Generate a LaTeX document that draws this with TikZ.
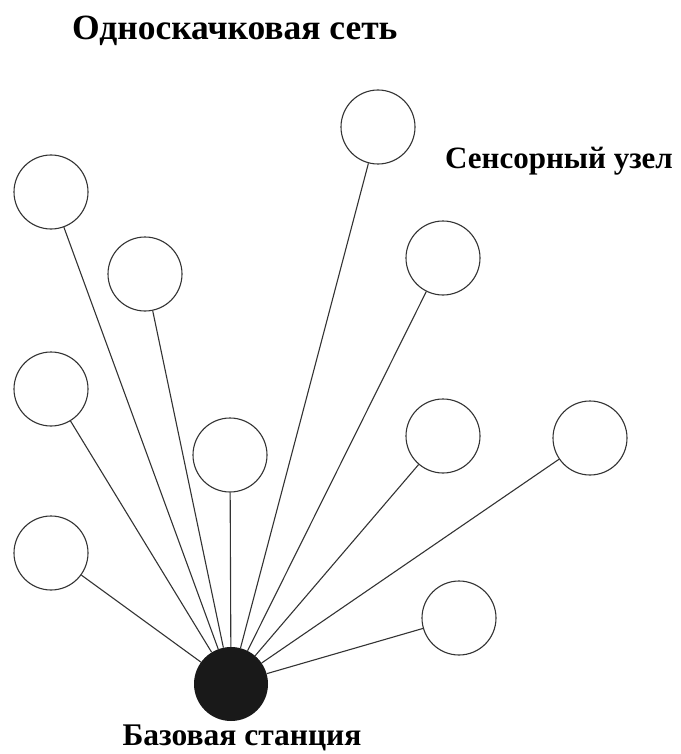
\documentclass[tikz,border=0pt]{standalone}
\usepackage{fontspec}
\setmainfont{Liberation Serif}
\begin{document}
\begin{tikzpicture}[x=1pt,y=-1pt,
  sensor/.style={circle,draw=black!80,line width=1.1pt,minimum size=74pt,inner sep=0pt,fill=white},
  base/.style={circle,fill=black!90,minimum size=74pt,inner sep=0pt},
  link/.style={draw=black!80,line width=1.1pt},
  lbl/.style={inner sep=0pt}]
\useasboundingbox (0,0) rectangle (680,754);
\node[base] (bs) at (231,684) {};
\node[sensor] (n1) at (51,192) {};
\node[sensor] (n2) at (378,127) {};
\node[sensor] (n3) at (145,274) {};
\node[sensor] (n4) at (443,258) {};
\node[sensor] (n5) at (51,389) {};
\node[sensor] (n6) at (230,455) {};
\node[sensor] (n7) at (443,436) {};
\node[sensor] (n8) at (590,438) {};
\node[sensor] (n9) at (51,553) {};
\node[sensor] (n10) at (459,618) {};
\foreach \n in {n1,n2,n3,n4,n5,n6,n7,n8,n9,n10}
  \draw[link] (\n) -- (bs);
\node[lbl,anchor=base west,font=\bfseries\fontsize{35.5}{40}\selectfont] (title) at (72,40) {Односкачковая сеть};
\node[lbl,anchor=base west,font=\bfseries\fontsize{31}{36}\selectfont] (sl) at (445,168) {Сенсорный узел};
\node[lbl,anchor=base,font=\bfseries\fontsize{31.5}{37}\selectfont] (bl) at (242,745) {Базовая станция};
\end{tikzpicture}
\end{document}
